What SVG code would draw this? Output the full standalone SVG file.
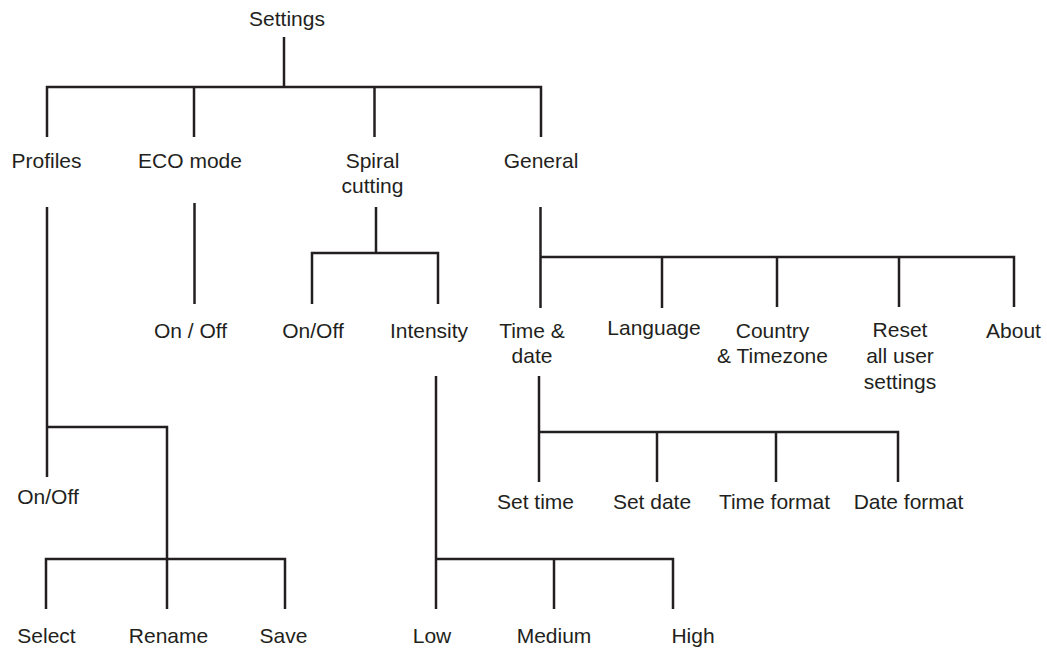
<svg xmlns="http://www.w3.org/2000/svg" width="1047" height="650" viewBox="0 0 1047 650">
<style>
text{font-family:"Liberation Sans",Arial,Helvetica,sans-serif;font-size:21px;fill:#231f20;text-anchor:middle}
.c path{fill:none;stroke:#231f20;stroke-width:2.5;stroke-linejoin:miter;stroke-linecap:butt}
</style>
<rect width="1047" height="650" fill="#ffffff"/>
<g class="c" id="connectors">
<path d="M284 37V87"/>
<path d="M47 137V87H541V137"/>
<path d="M194 87V137"/>
<path d="M374.5 87V137"/>
<path d="M47 207V477"/>
<path d="M47 427H167V609"/>
<path d="M46 609V559H285V609"/>
<path d="M194.5 203V304"/>
<path d="M376 207V253"/>
<path d="M312 304V253H438V304"/>
<path d="M436 376V609"/>
<path d="M436 559H673V609"/>
<path d="M554 559V609"/>
<path d="M540.5 207V308"/>
<path d="M540.5 257H1014V307"/>
<path d="M662 257V308"/>
<path d="M777 257V307"/>
<path d="M899 257V307"/>
<path d="M539 376V482"/>
<path d="M539 432H898V482"/>
<path d="M657 432V482"/>
<path d="M776 432V482"/>
</g>
<g id="n-settings"><text x="287" y="26">Settings</text></g>
<g id="n-profiles"><text x="46.5" y="168">Profiles</text></g>
<g id="n-eco"><text x="190" y="168">ECO mode</text></g>
<g id="n-spiral"><text x="372.5" y="168">Spiral</text><text x="372.5" y="193">cutting</text></g>
<g id="n-general"><text x="541" y="168">General</text></g>
<g id="n-eco-onoff"><text x="190.5" y="338">On / Off</text></g>
<g id="n-spiral-onoff"><text x="313" y="338">On/Off</text></g>
<g id="n-intensity"><text x="429" y="338">Intensity</text></g>
<g id="n-timedate"><text x="532" y="338">Time &amp;</text><text x="532" y="363">date</text></g>
<g id="n-language"><text x="654" y="335">Language</text></g>
<g id="n-country"><text x="772.5" y="338">Country</text><text x="772.5" y="363">&amp; Timezone</text></g>
<g id="n-reset"><text x="900" y="337">Reset</text><text x="900" y="363">all user</text><text x="900" y="389">settings</text></g>
<g id="n-about"><text x="1013.5" y="338">About</text></g>
<g id="n-profiles-onoff"><text x="48" y="504">On/Off</text></g>
<g id="n-settime"><text x="535.5" y="509">Set time</text></g>
<g id="n-setdate"><text x="652" y="509">Set date</text></g>
<g id="n-timeformat"><text x="774.5" y="509">Time format</text></g>
<g id="n-dateformat"><text x="908.5" y="509">Date format</text></g>
<g id="n-select"><text x="46.5" y="643">Select</text></g>
<g id="n-rename"><text x="168.5" y="643">Rename</text></g>
<g id="n-save"><text x="283.5" y="643">Save</text></g>
<g id="n-low"><text x="432" y="643">Low</text></g>
<g id="n-medium"><text x="554" y="643">Medium</text></g>
<g id="n-high"><text x="693" y="643">High</text></g>
</svg>
